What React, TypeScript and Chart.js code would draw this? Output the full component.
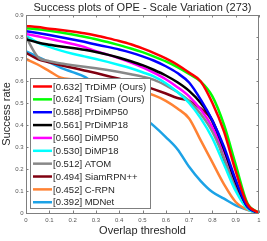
import React, { useEffect, useRef } from "react";
import { Chart, registerables } from "chart.js";

Chart.register(...registerables);

const thresholds = [0, 0.05, 0.1, 0.15, 0.2, 0.25, 0.3, 0.35, 0.4, 0.45, 0.5, 0.55, 0.6, 0.65, 0.7, 0.75, 0.8, 0.85, 0.9, 0.95, 1];

const trackerNames = ["TrDiMP (Ours)", "TrSiam (Ours)", "PrDiMP50", "PrDiMP18", "DiMP50", "DiMP18", "ATOM", "SiamRPN++", "C-RPN", "MDNet"];
const aucScores = ["0.632", "0.624", "0.588", "0.561", "0.560", "0.530", "0.512", "0.494", "0.452", "0.392"];
const lineColors = ["#FF0000", "#00FF00", "#0000FF", "#000000", "#FF00FF", "#00FFFF", "#888888", "#800010", "#FF8233", "#1CA2E6"];

const trdimp = [0.85, 0.845, 0.838, 0.832, 0.825, 0.817, 0.807, 0.795, 0.782, 0.767, 0.748, 0.727, 0.703, 0.674, 0.638, 0.598, 0.5, 0.37, 0.19, 0.04, 0];
const trsiam = [0.84, 0.835, 0.828, 0.82, 0.811, 0.801, 0.79, 0.777, 0.763, 0.748, 0.731, 0.711, 0.689, 0.663, 0.632, 0.597, 0.53, 0.4, 0.22, 0.045, 0];
const prdimp50 = [0.826, 0.818, 0.809, 0.799, 0.789, 0.778, 0.766, 0.755, 0.743, 0.729, 0.712, 0.692, 0.667, 0.636, 0.593, 0.515, 0.42, 0.3, 0.15, 0.03, 0];
const prdimp18 = [0.79, 0.775, 0.765, 0.757, 0.75, 0.742, 0.732, 0.72, 0.706, 0.69, 0.672, 0.65, 0.625, 0.594, 0.555, 0.5, 0.42, 0.29, 0.14, 0.03, 0];
const dimp50 = [0.814, 0.803, 0.792, 0.78, 0.768, 0.755, 0.735, 0.72, 0.703, 0.684, 0.662, 0.637, 0.608, 0.572, 0.53, 0.47, 0.39, 0.28, 0.14, 0.03, 0];
const dimp18 = [0.805, 0.775, 0.755, 0.738, 0.724, 0.712, 0.7, 0.687, 0.673, 0.658, 0.64, 0.62, 0.59, 0.55, 0.5, 0.43, 0.34, 0.22, 0.1, 0.02, 0];
const atom = [0.8, 0.71, 0.69, 0.68, 0.672, 0.665, 0.658, 0.65, 0.641, 0.631, 0.62, 0.605, 0.58, 0.55, 0.51, 0.45, 0.37, 0.25, 0.11, 0.025, 0];
const siamrpnpp = [0.728, 0.7, 0.685, 0.672, 0.66, 0.648, 0.636, 0.623, 0.61, 0.596, 0.58, 0.562, 0.543, 0.523, 0.51, 0.475, 0.415, 0.24, 0.11, 0.025, 0];
const crpn = [0.7, 0.675, 0.645, 0.615, 0.607, 0.6, 0.592, 0.583, 0.573, 0.562, 0.55, 0.535, 0.51, 0.475, 0.43, 0.33, 0.23, 0.13, 0.05, 0.015, 0];
const mdnet = [0.735, 0.71, 0.685, 0.66, 0.64, 0.62, 0.585, 0.55, 0.51, 0.47, 0.435, 0.395, 0.345, 0.29, 0.21, 0.145, 0.095, 0.065, 0.035, 0.015, 0];

const seriesValues = [trdimp, trsiam, prdimp50, prdimp18, dimp50, dimp18, atom, siamrpnpp, crpn, mdnet];

const xTickValues = [0, 0.1, 0.2, 0.3, 0.4, 0.5, 0.6, 0.7, 0.8, 0.9, 1];
const xTickLabels = ["0", "0.1", "0.2", "0.3", "0.4", "0.5", "0.6", "0.7", "0.8", "0.9", "1"];
const yTickValues = [0, 0.1, 0.2, 0.3, 0.4, 0.5, 0.6, 0.7, 0.8, 0.9];
const yTickLabels = ["0", "0.1", "0.2", "0.3", "0.4", "0.5", "0.6", "0.7", "0.8", "0.9"];

const chartTitle = "Success plots of OPE - Scale Variation (273)";
const xTitle = "Overlap threshold";
const yTitle = "Success rate";

const FONT = "'Liberation Sans', Arial, sans-serif";

const decorPlugin = {
  id: "decor",
  afterDatasetsDraw(chart: any) {
    const { ctx, chartArea } = chart;
    const xs = chart.scales.x;
    const ys = chart.scales.y;
    const { left, right, top, bottom } = chartArea;
    ctx.save();
    ctx.setTransform(1, 0, 0, 1, 0, 0);
    // box
    ctx.strokeStyle = "#7f7f7f";
    ctx.lineWidth = 1;
    ctx.beginPath();
    ctx.rect(Math.round(left) + 0.5, Math.round(top) + 0.5, Math.round(right - left) - 1, Math.round(bottom - top));
    ctx.stroke();
    // inner ticks
    const tl = 2.5;
    ctx.beginPath();
    xTickValues.forEach((v) => {
      const px = Math.round(xs.getPixelForValue(v)) + 0.5;
      ctx.moveTo(px, bottom);
      ctx.lineTo(px, bottom - tl);
      ctx.moveTo(px, top);
      ctx.lineTo(px, top + tl);
    });
    yTickValues.forEach((v) => {
      const py = Math.round(ys.getPixelForValue(v)) + 0.5;
      ctx.moveTo(left, py);
      ctx.lineTo(left + tl, py);
      ctx.moveTo(right, py);
      ctx.lineTo(right - tl, py);
    });
    ctx.stroke();

    // tick labels
    ctx.fillStyle = "#555555";
    ctx.font = `6px ${FONT}`;
    ctx.textBaseline = "middle";
    ctx.textAlign = "center";
    xTickValues.forEach((v, i) => {
      ctx.fillText(xTickLabels[i], xs.getPixelForValue(v), 220);
    });
    ctx.textAlign = "right";
    yTickValues.forEach((v, i) => {
      ctx.fillText(yTickLabels[i], left - 2.5, ys.getPixelForValue(v));
    });

    // legend
    const lx = 30, ly = 78, lw = 120, lh = 130;
    ctx.fillStyle = "#ffffff";
    ctx.fillRect(lx, ly, lw, lh);
    ctx.strokeStyle = "#7f7f7f";
    ctx.lineWidth = 1;
    ctx.strokeRect(lx + 0.5, ly + 0.5, lw, lh);
    ctx.font = `9.5px ${FONT}`;
    ctx.textBaseline = "middle";
    ctx.textAlign = "left";
    chart.data.datasets.forEach((ds: any, i: number) => {
      const cy = 86.5 + i * 12.86;
      ctx.strokeStyle = ds.borderColor;
      ctx.lineWidth = 2.5;
      ctx.beginPath();
      ctx.moveTo(33, cy);
      ctx.lineTo(52, cy);
      ctx.stroke();
      ctx.fillStyle = "#262626";
      ctx.fillText(ds.label, 53, cy + 0.5);
    });

    // titles
    ctx.fillStyle = "#262626";
    ctx.textAlign = "center";
    ctx.textBaseline = "middle";
    ctx.font = `11px ${FONT}`;
    ctx.fillText(chartTitle, (left + right) / 2, 8);
    ctx.fillText(xTitle, (left + right) / 2, 231);
    ctx.setTransform(0, -1, 1, 0, 7, (top + bottom) / 2);
    ctx.fillText(yTitle, 0, 0);
    ctx.restore();
  },
};

export default function App() {
  const ref = useRef<HTMLCanvasElement>(null);
  useEffect(() => {
    if (!ref.current) return;
    const chart = new Chart(ref.current, {
      type: "line",
      data: {
        datasets: seriesValues.map((vals, i) => ({
          label: `[${aucScores[i]}] ${trackerNames[i]}`,
          data: thresholds.map((t, j) => ({ x: t, y: vals[j] })),
          borderColor: lineColors[i],
          backgroundColor: lineColors[i],
          borderWidth: 2.5,
          pointRadius: 0,
          cubicInterpolationMode: "monotone",
          fill: false,
        })),
      },
      options: {
        responsive: false,
        animation: false,
        events: [],
        layout: { padding: { top: 15, right: 8, left: 0, bottom: 0 } },
        plugins: { legend: { display: false }, title: { display: false }, tooltip: { enabled: false } },
        scales: {
          x: {
            type: "linear",
            min: 0,
            max: 1,
            grid: { display: false },
            border: { display: false },
            ticks: { display: false },
            afterFit: (s: any) => { s.height = 28; },
          },
          y: {
            type: "linear",
            min: 0,
            max: 0.9,
            grid: { display: false },
            border: { display: false },
            ticks: { display: false },
            afterFit: (s: any) => { s.width = 26; },
          },
        },
      },
      plugins: [decorPlugin],
    });
    return () => chart.destroy();
  }, []);
  return (
    <div style={{ position: "absolute", left: 0, top: 0, width: 267, height: 241, background: "#fff" }}>
      <canvas ref={ref} width={267} height={241} style={{ display: "block", width: 267, height: 241 }} />
    </div>
  );
}
